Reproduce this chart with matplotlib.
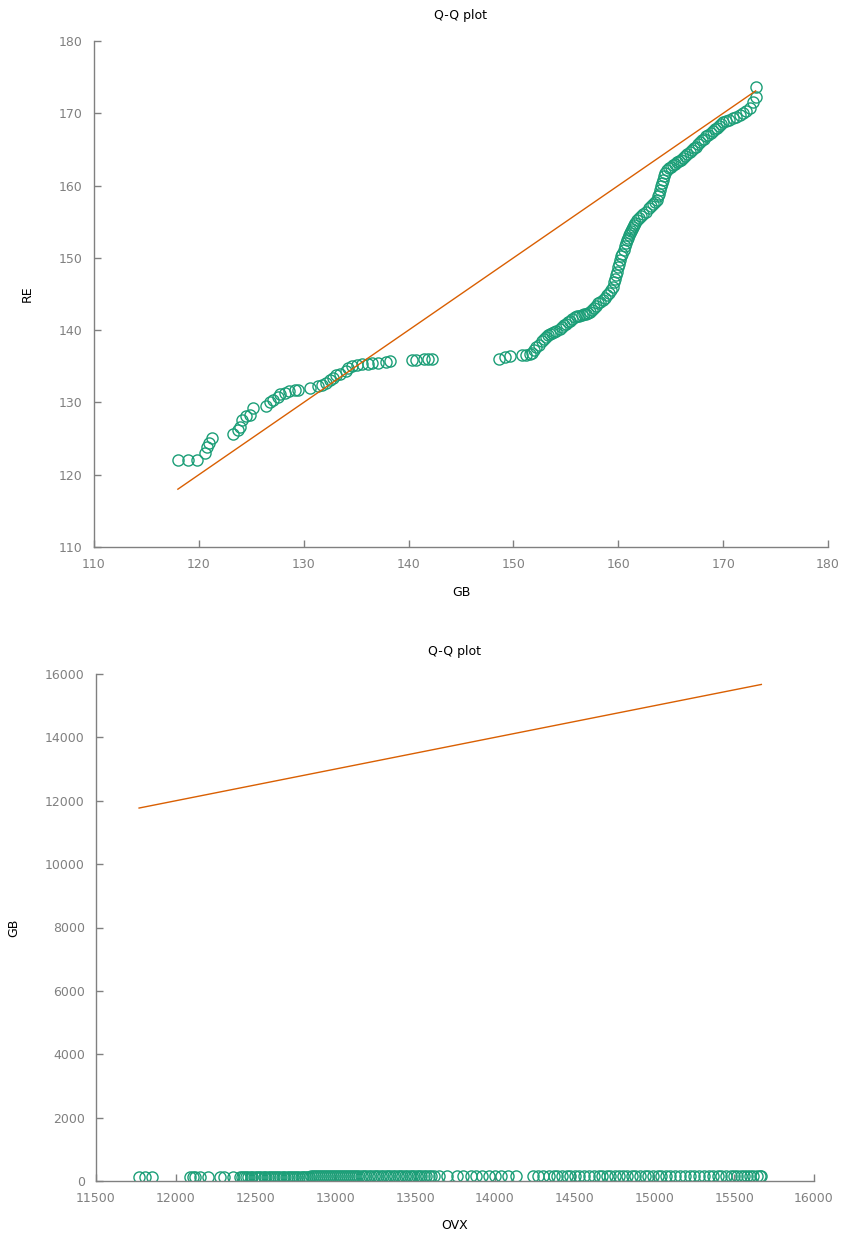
import matplotlib
matplotlib.use("Agg")
import matplotlib.pyplot as plt

# Top Q-Q plot: sorted GB quantiles vs sorted RE quantiles
gb = [118.0, 119.0, 119.8, 120.6, 120.8, 121.0, 121.3,
      123.3, 123.7, 123.9, 124.1, 124.5, 124.9, 125.2,
      126.4, 126.8, 127.1, 127.5, 127.7, 128.2, 128.6, 129.2, 129.5,
      130.6, 131.4, 131.7, 132.1, 132.5, 132.8, 133.1, 133.5, 134.0, 134.2,
      134.6, 135.1, 135.6, 136.1, 136.5, 137.1, 137.8, 138.2,
      140.3, 140.7, 141.5, 141.9, 142.2,
      148.6, 149.2, 149.7, 150.8, 151.2, 151.6,
      151.8, 152.0, 152.2, 152.4,
      152.7, 152.9, 153.1, 153.3, 153.5, 153.7, 153.9, 154.1,
      154.4, 154.6, 154.8, 155.0, 155.2, 155.4, 155.6,
      155.9, 156.1, 156.3, 156.5, 156.7, 156.9, 157.1, 157.3,
      157.5, 157.7, 157.9, 158.1, 158.3, 158.5,
      158.7, 158.9, 159.1, 159.3, 159.5,
      159.6, 159.7, 159.8, 159.9, 160.0, 160.1, 160.2,
      160.3, 160.4, 160.5, 160.6, 160.7, 160.8,
      160.9, 161.0, 161.1, 161.2, 161.3, 161.4, 161.5, 161.6, 161.8,
      162.0, 162.2, 162.4, 162.6,
      162.9, 163.1, 163.3, 163.5, 163.7,
      163.8, 163.9, 164.0, 164.1, 164.2,
      164.3, 164.4, 164.5, 164.6,
      164.8, 165.0, 165.2, 165.4, 165.6, 165.8, 166.0, 166.2,
      166.4, 166.6, 166.8, 167.0, 167.2, 167.4, 167.6, 167.8,
      168.0, 168.2, 168.4, 168.6, 168.8, 169.0, 169.2, 169.4, 169.6, 169.8, 170.0,
      170.3, 170.6, 170.9, 171.2, 171.6,
      171.9, 172.2, 172.6,
      172.8, 173.1, 173.1]

re = [122.0, 122.0, 122.0, 123.0, 123.8, 124.4, 125.1,
      125.6, 126.2, 126.6, 127.6, 128.1, 128.3, 129.2,
      129.5, 130.1, 130.3, 130.8, 131.2, 131.3, 131.6, 131.7, 131.7,
      132.0, 132.3, 132.4, 132.7, 133.1, 133.4, 133.8, 133.9, 134.4, 134.8,
      135.0, 135.2, 135.3, 135.3, 135.5, 135.5, 135.6, 135.7,
      135.9, 135.9, 136.0, 136.0, 136.0,
      136.0, 136.3, 136.4, 136.6, 136.6, 136.7,
      136.9, 137.2, 137.6, 138.0,
      138.5, 138.8, 139.1, 139.3, 139.5, 139.6, 139.8, 139.9,
      140.2, 140.5, 140.7, 140.9, 141.1, 141.3, 141.5,
      141.8, 141.9, 142.0, 142.1, 142.2, 142.3, 142.4, 142.5,
      142.8, 143.1, 143.4, 143.7, 143.9, 144.2,
      144.5, 144.9, 145.2, 145.6, 146.0,
      146.6, 147.1, 147.6, 148.1, 148.7, 149.2, 149.7,
      150.2, 150.6, 151.1, 151.6, 152.0, 152.5,
      152.8, 153.1, 153.4, 153.7, 154.0, 154.3, 154.5, 154.8, 155.2,
      155.5, 155.8, 156.1, 156.4,
      156.9, 157.2, 157.4, 157.7, 158.0,
      158.5, 158.9, 159.4, 159.9, 160.4,
      160.8, 161.3, 161.7, 162.2,
      162.4, 162.6, 162.8, 163.0, 163.2, 163.4, 163.6, 163.8,
      164.1, 164.4, 164.6, 164.9, 165.2, 165.4, 165.7, 166.0,
      166.3, 166.5, 166.8, 167.0, 167.3, 167.5, 167.8, 168.0, 168.3, 168.5, 168.8,
      169.0, 169.1, 169.3, 169.5, 169.8,
      170.0, 170.3, 170.7,
      171.6, 172.3, 173.6]

# Bottom Q-Q plot: sorted OVX quantiles vs sorted GB quantiles
ovx = [11770, 11810, 11850,
       12090, 12105, 12120, 12150, 12200, 12280, 12300, 12360,
       12400, 12415, 12430, 12440, 12455, 12470, 12480, 12495, 12510, 12520,
       12535, 12550, 12560, 12575, 12590, 12600, 12615, 12630, 12640, 12655,
       12670, 12680, 12695, 12710, 12720, 12735, 12750, 12760, 12775, 12790,
       12800, 12812, 12825, 12838, 12850, 12862, 12875, 12888, 12900, 12912,
       12925, 12938, 12950, 12962, 12975, 12988, 13000, 13012, 13025, 13038,
       13050, 13062, 13075, 13088, 13100, 13112, 13125, 13138, 13150, 13165,
       13180, 13195, 13210, 13225, 13240, 13255, 13270, 13285, 13300, 13315,
       13330, 13345, 13360, 13375, 13390, 13405, 13420, 13435, 13450, 13465,
       13480, 13495, 13510, 13525, 13540, 13555, 13570, 13585, 13600, 13620,
       13650, 13700, 13760, 13800, 13850, 13880, 13920, 13960, 14000, 14040, 14080, 14130,
       14240, 14270, 14300, 14340, 14370, 14390, 14420, 14450, 14470, 14500,
       14530, 14560, 14590, 14620, 14650, 14670, 14700, 14720, 14750, 14780,
       14800, 14830, 14860, 14880, 14910, 14940, 14960, 14990, 15020, 15040,
       15070, 15100, 15130, 15160, 15190, 15220, 15250, 15280, 15310, 15340,
       15370, 15400, 15420, 15450, 15480, 15500, 15520, 15540, 15560, 15580,
       15600, 15620, 15640, 15660, 15670]

top_xticks = [110, 120, 130, 140, 150, 160, 170, 180]
top_yticks = [110, 120, 130, 140, 150, 160, 170, 180]
bot_xticks = [11500, 12000, 12500, 13000, 13500, 14000, 14500, 15000, 15500, 16000]
bot_yticks = [0, 2000, 4000, 6000, 8000, 10000, 12000, 14000, 16000]

GREEN = "#1b9e77"
ORANGE = "#d95f02"
GRAY = "#808080"

plt.rcParams['font.family'] = ['DejaVu Sans']

W, H = 857, 1233
fig = plt.figure(figsize=(W / 100, H / 100), dpi=100)

def style(ax, xt, yt):
    for s in ("top", "right"):
        ax.spines[s].set_visible(False)
    for s in ("left", "bottom"):
        ax.spines[s].set_color(GRAY)
        ax.spines[s].set_linewidth(1.0)
    ax.set_xticks(xt)
    ax.set_yticks(yt)
    ax.set_xlim(xt[0], xt[-1])
    ax.set_ylim(yt[0], yt[-1])
    ax.tick_params(direction="in", length=5, width=1, color=GRAY,
                   labelcolor=GRAY, labelsize=9, pad=8)

def qq(ax, x, y):
    ax.plot(x, y, linestyle="none", marker="o", markersize=8,
            markerfacecolor="none", markeredgecolor=GREEN, markeredgewidth=1.0)
    lo, hi = min(x), max(x)
    ax.plot([lo, hi], [lo, hi], color=ORANGE, linewidth=1.0)

ax1 = fig.add_axes([94 / W, 1 - 547 / H, (828 - 94) / W, (547 - 41) / H])
qq(ax1, gb, re)
style(ax1, top_xticks, top_yticks)
ax1.set_xlabel("GB", fontsize=9, labelpad=11)
ax1.set_ylabel("RE", fontsize=9, labelpad=18)
ax1.set_title("Q-Q plot", fontsize=9, pad=16)

ax2 = fig.add_axes([96 / W, 1 - 1181 / H, (814 - 96) / W, (1181 - 674) / H])
qq(ax2, ovx, gb)
style(ax2, bot_xticks, bot_yticks)
ax2.set_xlabel("OVX", fontsize=9, labelpad=10)
ax2.set_ylabel("GB", fontsize=9, labelpad=18)
ax2.set_title("Q-Q plot", fontsize=9, pad=14)

fig.savefig("out.png", dpi=100)
